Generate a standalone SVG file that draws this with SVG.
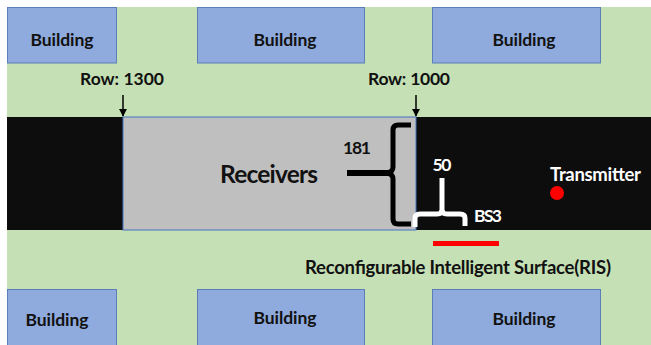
<svg xmlns="http://www.w3.org/2000/svg" width="651" height="345" viewBox="0 0 651 345">
<defs>
<style>
.bld{fill:#8FAADC;stroke:#5B7DB8;stroke-width:1}
.t{font-family:Lato,"Liberation Sans",sans-serif;font-weight:bold;font-size:17.5px;fill:#111}
.w{fill:#fff}
.c{text-anchor:middle}
.big{font-size:24.5px}
.m{font-size:18.5px}
</style>
<marker id="ah" viewBox="0 0 10 10" refX="9" refY="5" markerWidth="5.5" markerHeight="5.5" orient="auto"><path d="M0,0 L10,5 L0,10 z" fill="#000"/></marker>
</defs>
<rect x="0" y="0" width="651" height="345" fill="#fff"/>
<rect id="ground" x="7" y="7" width="644" height="338" fill="#C5E0B4"/>
<rect id="road" x="7" y="117" width="644" height="113" fill="#0D0D0D"/>
<g id="building-top-1"><rect class="bld" x="7.5" y="7.5" width="109" height="55.5"/><text class="t c" x="62" y="46" textLength="63">Building</text></g>
<g id="building-top-2"><rect class="bld" x="197.5" y="7.5" width="167" height="55.5"/><text class="t c" x="285" y="46" textLength="63">Building</text></g>
<g id="building-top-3"><rect class="bld" x="432.5" y="7.5" width="168" height="55.5"/><text class="t c" x="524" y="46" textLength="63">Building</text></g>
<g id="building-bot-1"><rect class="bld" x="7.5" y="289.5" width="109" height="56"/><text class="t c" x="57" y="326" textLength="63">Building</text></g>
<g id="building-bot-2"><rect class="bld" x="197.5" y="289.5" width="167" height="56"/><text class="t c" x="285" y="324" textLength="63">Building</text></g>
<g id="building-bot-3"><rect class="bld" x="432.5" y="289.5" width="168" height="56"/><text class="t c" x="524" y="325" textLength="63">Building</text></g>
<g id="receivers"><rect x="123" y="117" width="293" height="113" fill="#BFBFBF" stroke="#4472C4" stroke-width="1"/><text class="t big" x="220" y="183" textLength="98">Receivers</text></g>
<g id="row-labels"><text class="t c" x="122" y="85" textLength="84">Row: 1300</text><text class="t c" x="409" y="85" textLength="82">Row: 1000</text></g>
<g id="connectors">
<line x1="123" y1="95" x2="123" y2="116" stroke="#000" stroke-width="1.5" marker-end="url(#ah)"/>
<line x1="416" y1="95" x2="416" y2="116" stroke="#000" stroke-width="1.5" marker-end="url(#ah)"/>
</g>
<g id="bracket-181">
<path d="M411 125 L398 125 Q393 125 393 130 L393 167 Q393 172 387 173 Q393 174 393 179 L393 219 Q393 224 398 224 L411 224" fill="none" stroke="#000" stroke-width="5"/>
<line x1="347" y1="173" x2="390" y2="173" stroke="#000" stroke-width="6"/>
<text class="t c" x="357" y="154" textLength="28">181</text>
</g>
<g id="bs3">
<path d="M415 227 L415 218 Q415 214 420 214 L437 214 Q442 214 442 210 Q442 214 447 214 L460 214 Q465 214 465 218 L465 226" fill="none" stroke="#fff" stroke-width="5"/>
<line x1="442" y1="178" x2="442" y2="212" stroke="#fff" stroke-width="5"/>
<text class="t w c" x="442" y="171" textLength="19">50</text>
<text class="t w" x="474" y="222" textLength="28">BS3</text>
</g>
<g id="transmitter"><circle cx="557" cy="193" r="7" fill="#FF0000"/><text class="t w m" x="550" y="181" textLength="91">Transmitter</text></g>
<g id="ris"><rect x="433" y="241" width="66" height="5" fill="#FF0000"/><text class="t c m" x="458" y="274" textLength="306">Reconfigurable Intelligent Surface(RIS)</text></g>
</svg>
